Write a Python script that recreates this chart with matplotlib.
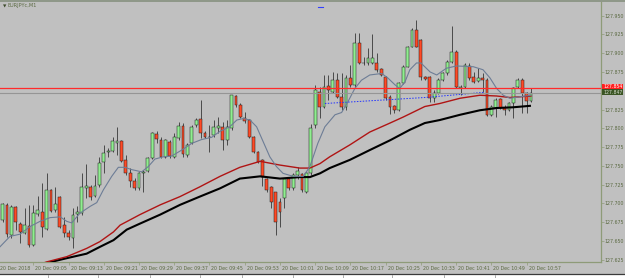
import numpy as np
import matplotlib
matplotlib.use('Agg')
import matplotlib.pyplot as plt
import matplotlib.transforms as mtrans
from matplotlib.lines import Line2D
from matplotlib.patches import Rectangle

# EURJPYc M1, 20 Dec 2018, bars 08:58 .. 10:58
opens = [127.678, 127.698, 127.658, 127.695, 127.673, 127.661, 127.670, 127.645, 127.686, 127.689,
         127.666, 127.718, 127.691, 127.708, 127.671, 127.661, 127.654, 127.686, 127.687, 127.721,
         127.722, 127.710, 127.725, 127.755, 127.768, 127.770, 127.780, 127.783, 127.758, 127.741,
         127.730, 127.720, 127.741, 127.743, 127.760, 127.792, 127.784, 127.762, 127.782, 127.762,
         127.787, 127.803, 127.764, 127.780, 127.804, 127.812, 127.794, 127.788, 127.791, 127.800,
         127.802, 127.784, 127.800, 127.843, 127.831, 127.814, 127.811, 127.788, 127.768, 127.758,
         127.733, 127.722, 127.715, 127.702, 127.707, 127.733, 127.721, 127.738, 127.739, 127.715,
         127.741, 127.804, 127.848, 127.828, 127.856, 127.848, 127.864, 127.842, 127.828, 127.867,
         127.858, 127.914, 127.887, 127.887, 127.887, 127.887, 127.879, 127.868, 127.842, 127.830,
         127.824, 127.860, 127.882, 127.908, 127.931, 127.918, 127.868, 127.868, 127.840, 127.847,
         127.864, 127.874, 127.888, 127.902, 127.854, 127.855, 127.883, 127.868, 127.863, 127.867,
         127.864, 127.818, 127.827, 127.839, 127.827, 127.824, 127.834, 127.855, 127.864, 127.847,
         127.836]
highs = [127.701, 127.701, 127.698, 127.696, 127.675, 127.694, 127.698, 127.698, 127.710, 127.727,
         127.740, 127.719, 127.722, 127.710, 127.682, 127.665, 127.694, 127.697, 127.740, 127.753,
         127.725, 127.738, 127.762, 127.778, 127.774, 127.788, 127.802, 127.784, 127.765, 127.747,
         127.734, 127.742, 127.745, 127.762, 127.795, 127.796, 127.788, 127.786, 127.784, 127.794,
         127.808, 127.807, 127.780, 127.804, 127.814, 127.838, 127.796, 127.804, 127.811, 127.815,
         127.808, 127.811, 127.844, 127.844, 127.834, 127.822, 127.812, 127.790, 127.770, 127.759,
         127.734, 127.723, 127.715, 127.707, 127.734, 127.735, 127.741, 127.748, 127.741, 127.742,
         127.806, 127.858, 127.855, 127.871, 127.871, 127.875, 127.874, 127.874, 127.871, 127.884,
         127.927, 127.927, 127.895, 127.907, 127.926, 127.900, 127.880, 127.870, 127.844, 127.831,
         127.862, 127.884, 127.910, 127.934, 127.944, 127.919, 127.870, 127.870, 127.851, 127.867,
         127.875, 127.891, 127.936, 127.904, 127.858, 127.887, 127.887, 127.875, 127.880, 127.874,
         127.867, 127.831, 127.840, 127.840, 127.831, 127.835, 127.855, 127.867, 127.867, 127.848,
         127.854]
lows = [127.675, 127.655, 127.654, 127.665, 127.647, 127.659, 127.642, 127.643, 127.683, 127.655,
        127.665, 127.688, 127.689, 127.667, 127.655, 127.651, 127.641, 127.675, 127.685, 127.707,
        127.705, 127.709, 127.722, 127.741, 127.762, 127.768, 127.764, 127.755, 127.738, 127.722,
        127.718, 127.718, 127.715, 127.742, 127.759, 127.780, 127.760, 127.760, 127.760, 127.760,
        127.784, 127.762, 127.762, 127.779, 127.802, 127.787, 127.787, 127.769, 127.788, 127.794,
        127.771, 127.778, 127.798, 127.828, 127.814, 127.807, 127.787, 127.767, 127.754, 127.723,
        127.715, 127.694, 127.658, 127.669, 127.694, 127.718, 127.718, 127.733, 127.715, 127.714,
        127.738, 127.800, 127.814, 127.827, 127.838, 127.847, 127.840, 127.824, 127.824, 127.855,
        127.855, 127.886, 127.884, 127.884, 127.886, 127.875, 127.870, 127.838, 127.819, 127.820,
        127.823, 127.859, 127.882, 127.908, 127.908, 127.864, 127.864, 127.835, 127.835, 127.846,
        127.863, 127.871, 127.887, 127.854, 127.844, 127.854, 127.864, 127.860, 127.862, 127.848,
        127.816, 127.816, 127.815, 127.826, 127.818, 127.823, 127.814, 127.854, 127.820, 127.820,
        127.835]
closes = [127.699, 127.659, 127.695, 127.675, 127.662, 127.671, 127.645, 127.687, 127.691, 127.669,
          127.718, 127.690, 127.699, 127.669, 127.661, 127.655, 127.685, 127.689, 127.722, 127.723,
          127.709, 127.723, 127.754, 127.767, 127.770, 127.783, 127.783, 127.756, 127.741, 127.730,
          127.720, 127.741, 127.742, 127.760, 127.794, 127.786, 127.762, 127.784, 127.763, 127.788,
          127.803, 127.766, 127.778, 127.802, 127.811, 127.794, 127.788, 127.788, 127.802, 127.803,
          127.784, 127.802, 127.844, 127.831, 127.815, 127.810, 127.788, 127.768, 127.755, 127.735,
          127.718, 127.702, 127.675, 127.689, 127.733, 127.721, 127.738, 127.743, 127.718, 127.741,
          127.800, 127.851, 127.828, 127.855, 127.851, 127.864, 127.842, 127.828, 127.867, 127.858,
          127.914, 127.887, 127.887, 127.894, 127.894, 127.878, 127.871, 127.840, 127.828, 127.824,
          127.860, 127.882, 127.908, 127.931, 127.908, 127.868, 127.866, 127.840, 127.847, 127.864,
          127.874, 127.888, 127.902, 127.855, 127.855, 127.884, 127.867, 127.862, 127.867, 127.864,
          127.818, 127.828, 127.838, 127.827, 127.824, 127.834, 127.854, 127.864, 127.847, 127.836,
          127.847]

# moving averages, sampled along the drawn lines (x in bar index)
ma_fast_x = [-0.6, 1.7, 4.0, 6.2, 8.5, 10.8, 13.1, 14.6, 15.7, 17.6, 19.9, 21.4, 22.9, 24.8, 26.3,
             27.8, 29.3, 31.6, 33.1, 34.6, 36.5, 38.4, 40.7, 43.0, 45.2, 47.5, 49.4, 51.6, 53.2,
             54.7, 56.2, 57.7, 59.2, 60.7, 62.2, 63.7, 66.0, 68.3, 69.8, 71.6, 73.2, 75.5, 77.0,
             78.4, 80.0, 81.5, 83.4, 86.1, 87.5, 89.1, 90.2, 91.4, 92.5, 94.0, 95.0, 97.1, 98.6,
             100.8, 103.1, 106.9, 109.1, 110.7, 112.2, 113.7, 115.2, 117.5, 120.0]
ma_fast_y = [127.642, 127.656, 127.659, 127.669, 127.676, 127.681, 127.682, 127.676, 127.674,
             127.687, 127.696, 127.701, 127.718, 127.736, 127.748, 127.748, 127.745, 127.742,
             127.749, 127.759, 127.762, 127.763, 127.771, 127.780, 127.785, 127.788, 127.796,
             127.802, 127.811, 127.813, 127.811, 127.802, 127.782, 127.762, 127.749, 127.740,
             127.736, 127.736, 127.749, 127.780, 127.802, 127.818, 127.821, 127.835, 127.853,
             127.864, 127.871, 127.873, 127.867, 127.858, 127.853, 127.862, 127.878, 127.887,
             127.887, 127.875, 127.871, 127.880, 127.883, 127.882, 127.878, 127.867, 127.853,
             127.844, 127.840, 127.842, 127.844]
ma_mid_x = [7.6, 10.0, 14.6, 19.1, 22.1, 25.2, 26.7, 31.2, 35.8, 40.3, 44.8, 49.4, 53.9, 58.5, 63.0,
            67.5, 69.8, 72.1, 74.3, 78.9, 83.4, 88.0, 91.0, 95.9, 99.3, 103.9, 108.4, 112.2, 115.2,
            120.0]
ma_mid_y = [127.617, 127.622, 127.629, 127.640, 127.649, 127.662, 127.671, 127.685, 127.698,
            127.709, 127.722, 127.736, 127.748, 127.756, 127.751, 127.747, 127.747, 127.753,
            127.762, 127.778, 127.795, 127.807, 127.815, 127.829, 127.833, 127.840, 127.844,
            127.843, 127.841, 127.843]
ma_slow_x = [8.5, 9.6, 14.6, 19.1, 22.1, 25.2, 28.2, 31.2, 35.8, 40.3, 44.8, 49.4, 53.9, 58.5, 63.0,
             67.5, 69.8, 72.1, 74.3, 78.9, 83.4, 88.0, 92.5, 95.9, 99.3, 103.9, 108.4, 112.2, 116.0,
             120.0]
ma_slow_y = [127.617, 127.620, 127.627, 127.633, 127.642, 127.651, 127.665, 127.673, 127.685,
             127.698, 127.709, 127.720, 127.733, 127.736, 127.733, 127.735, 127.735, 127.740,
             127.747, 127.758, 127.771, 127.784, 127.798, 127.807, 127.811, 127.818, 127.824,
             127.827, 127.828, 127.830]
trend_x = [73.2, 95.9, 109.5]
trend_y = [127.833, 127.841, 127.848]
ask, bid = 127.854, 127.847
price_ticks = [127.625, 127.650, 127.675, 127.700, 127.725, 127.750, 127.775, 127.800,
               127.825, 127.875, 127.900, 127.925, 127.950]
time_pos = [7, 15, 23, 31, 39, 47, 55, 63, 71, 79, 87, 95, 103, 111, 119]
time_labels = ['20 Dec 09:05', '20 Dec 09:13', '20 Dec 09:21', '20 Dec 09:29', '20 Dec 09:37',
               '20 Dec 09:45', '20 Dec 09:53', '20 Dec 10:01', '20 Dec 10:09', '20 Dec 10:17',
               '20 Dec 10:25', '20 Dec 10:33', '20 Dec 10:41', '20 Dec 10:49', '20 Dec 10:57']

BG = '#c0c0c0'; AXC = '#8e9b78'; TXT = '#5b6a42'
BULL = '#90ee90'; BEAR = '#ff4a26'; EDGE = '#1c1c1c'

o, h, l, c = (np.array(v) for v in (opens, highs, lows, closes))
idx = np.arange(len(c)); up = c >= o
lo = np.minimum(o, c); ht = np.maximum(np.abs(c - o), 0.0006)

fig = plt.figure(figsize=(6.25, 2.78), dpi=100, facecolor=BG)
ax = fig.add_axes([0, 16/278, 601/625, 260/278]); ax.set_facecolor(BG)
ax.vlines(idx, l, h, color=EDGE, lw=0.5, zorder=2)
ax.bar(idx[up], ht[up], bottom=lo[up], width=0.64, color=BULL, edgecolor=EDGE, lw=0.35, zorder=3)
ax.bar(idx[~up], ht[~up], bottom=lo[~up], width=0.64, color=BEAR, edgecolor=EDGE, lw=0.35, zorder=3)

ax.plot(ma_slow_x, ma_slow_y, color='#000000', lw=1.5, zorder=4, solid_capstyle='butt')
ax.plot(ma_mid_x, ma_mid_y, color='#b01414', lw=1.0, zorder=4)
ax.plot(ma_fast_x, ma_fast_y, color='#6d7d96', lw=0.8, zorder=4)
ax.plot(trend_x, trend_y, color='#2233ff', lw=0.7, ls=(0, (1.5, 1.5)), zorder=5)
ax.axhline(ask, color='#ff2a2a', lw=0.9, zorder=5)
ax.axhline(bid, color='#959595', lw=0.8, zorder=5)
ax.plot([71.6, 72.8], [127.961, 127.961], color='#3040ff', lw=0.8, zorder=5)

ax.set_xlim(-0.57, 135.9); ax.set_ylim(127.6219, 127.9682)
for s in ('left', 'top'): ax.spines[s].set_visible(False)
for s in ('right', 'bottom'): ax.spines[s].set_color(AXC); ax.spines[s].set_linewidth(0.9)
ax.yaxis.tick_right(); ax.set_yticks(price_ticks)
ax.set_yticklabels([f'{p:.3f}' for p in price_ticks])
ax.tick_params(axis='y', length=2, width=0.5, color=AXC, labelsize=3.4, labelcolor=TXT, pad=0.8)
ax.set_xticks(time_pos); ax.set_xticklabels(time_labels)
ax.tick_params(axis='x', length=2.2, width=0.5, color=AXC, labelsize=3.4, labelcolor=TXT, pad=0.6)
off = mtrans.ScaledTranslation(2/100, 0, fig.dpi_scale_trans)
for t in ax.get_xticklabels():
    t.set_horizontalalignment('left'); t.set_transform(t.get_transform() + off)
ax.annotate('20 Dec 2018', xy=(0, 0), xycoords='axes fraction', xytext=(0.2, -3.0),
            textcoords='offset points', fontsize=3.4, color=TXT, ha='left', va='top')

# bid / ask boxes on the price scale, stacked edge to edge
btr = mtrans.blended_transform_factory(ax.transAxes, ax.transData)
ax.add_patch(Rectangle((1.001, ask - 0.0012), 0.036, 0.0060, transform=btr, fc='#ff2020', ec='none',
                       clip_on=False, zorder=7))
ax.add_patch(Rectangle((1.001, bid - 0.0024), 0.036, 0.0072, transform=btr, fc='#3b5524', ec='none',
                       clip_on=False, zorder=7))
ax.text(1.0035, ask + 0.0018, f'{ask:.3f}', transform=btr, fontsize=3.3, color='white', ha='left',
        va='center', zorder=8, clip_on=False)
ax.text(1.0035, bid + 0.0012, f'{bid:.3f}', transform=btr, fontsize=3.3, color='#d8e0d0', ha='left',
        va='center', zorder=8, clip_on=False)

fig.text(3/625, 1 - 6/278, '\u25bc', fontsize=3.2, color='#3c4a2a', ha='left', va='center')
fig.text(8/625, 1 - 6/278, 'EURJPYc,M1', fontsize=3.6, color=TXT, ha='left', va='center')
fig.add_artist(Line2D([0, 1], [1 - 0.7/278, 1 - 0.7/278], color='#86907e', lw=1.2))
fig.add_artist(Rectangle((0, 0), 1, 3.5/278, transform=fig.transFigure, color='white', lw=0))
fig.add_artist(Line2D([0, 1], [4/278, 4/278], color='#3a3a3a', lw=0.9))
for xs in (48, 98, 150, 200, 242, 293, 343, 392, 444, 495):
    fig.add_artist(Line2D([xs/625, xs/625], [0, 3.5/278], color='#a0a0a0', lw=0.6))

fig.savefig('out.png', dpi=100, facecolor=BG)
